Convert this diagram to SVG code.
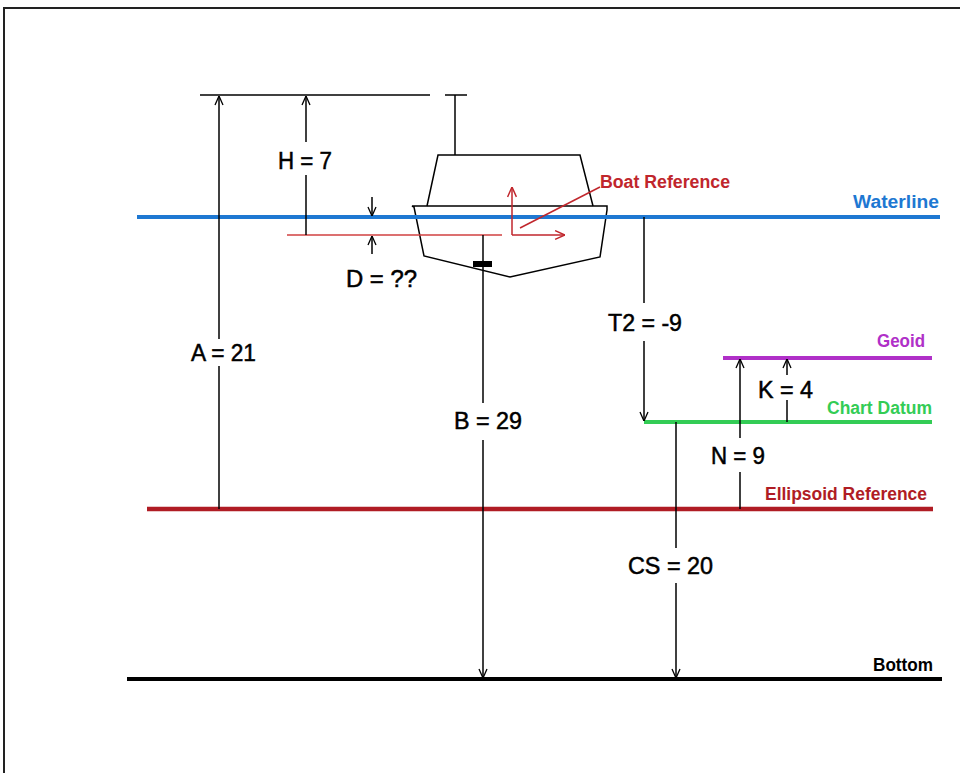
<svg xmlns="http://www.w3.org/2000/svg" width="960" height="773" viewBox="0 0 960 773">
<defs>
<marker id="ah" viewBox="0 0 10 10" refX="10" refY="5" markerWidth="10" markerHeight="10" markerUnits="userSpaceOnUse" orient="auto">
<path d="M1,1 L10,5 L1,9" fill="none" stroke="#000" stroke-width="1.3"/>
</marker>
<marker id="ahr" viewBox="0 0 10 10" refX="10" refY="5" markerWidth="11" markerHeight="11" markerUnits="userSpaceOnUse" orient="auto">
<path d="M1,1 L10,5 L1,9" fill="none" stroke="#c0262c" stroke-width="1.3"/>
</marker>
</defs>
<style>
.ln{stroke:#000;stroke-width:1.5;fill:none}
.dim{font-family:"Liberation Sans",Arial,sans-serif;font-size:23px;fill:#000;stroke:#000;stroke-width:0.5}
.lab{font-family:"Liberation Sans",Arial,sans-serif;font-size:18px;font-weight:bold}
.bg{fill:#fff}
</style>
<rect width="960" height="773" fill="#fff"/>
<path d="M4,773 L4,8 L960,8" fill="none" stroke="#222" stroke-width="2"/>

<g id="boat">
<line class="ln" x1="200" y1="95" x2="430" y2="95"/>
<line class="ln" x1="445" y1="95" x2="467" y2="95"/>
<line class="ln" x1="455" y1="95" x2="455" y2="155"/>
<path class="ln" d="M427,206 L438,155 L580,155 L593,206"/>
<path class="ln" d="M412,206 L607,206 L607,210 L600,257 L510,277 L424,256 L414,207 Z"/>
<rect x="473" y="261" width="19" height="6" fill="#000"/>
</g>

<g id="levels">
<g id="waterline"><line x1="137" y1="217" x2="940" y2="217" stroke="#1e78d2" stroke-width="4"/>
<text class="lab" x="853" y="208" fill="#1e78d2" textLength="86" lengthAdjust="spacingAndGlyphs">Waterline</text></g>
<g id="geoid"><line x1="723" y1="358" x2="932" y2="358" stroke="#b030c8" stroke-width="4"/>
<text class="lab" x="877" y="347" fill="#b030c8" textLength="48" lengthAdjust="spacingAndGlyphs">Geoid</text></g>
<g id="chartdatum"><line x1="644" y1="422" x2="932" y2="422" stroke="#33cc55" stroke-width="4"/>
<text class="lab" x="827" y="414" fill="#33cc55" textLength="105" lengthAdjust="spacingAndGlyphs">Chart Datum</text></g>
<g id="ellipsoid"><line x1="147" y1="509" x2="933" y2="509" stroke="#b01c24" stroke-width="4.5"/>
<text class="lab" x="765" y="500" fill="#b01c24" textLength="162" lengthAdjust="spacingAndGlyphs">Ellipsoid Reference</text></g>
<g id="bottom"><line x1="127" y1="679" x2="942" y2="679" stroke="#000" stroke-width="4"/>
<text class="lab" x="873" y="671" fill="#000" textLength="60" lengthAdjust="spacingAndGlyphs">Bottom</text></g>
</g>

<g id="boatref">
<line x1="287" y1="235" x2="502" y2="235" stroke="#d04040" stroke-width="1.5"/>
<line x1="512" y1="235" x2="512" y2="187" stroke="#c0262c" stroke-width="1.5" marker-end="url(#ahr)"/>
<line x1="512" y1="235" x2="565" y2="235" stroke="#c0262c" stroke-width="1.5" marker-end="url(#ahr)"/>
<line x1="520" y1="228" x2="600" y2="187" stroke="#c0262c" stroke-width="1.5"/>
<text class="lab" x="600" y="188" fill="#c0262c" textLength="130" lengthAdjust="spacingAndGlyphs">Boat Reference</text>
</g>

<g id="connectors">
<line class="ln" x1="219" y1="509" x2="219" y2="96" marker-end="url(#ah)"/>
<line class="ln" x1="306" y1="235" x2="306" y2="96" marker-end="url(#ah)"/>
<line class="ln" x1="372" y1="197" x2="372" y2="216" marker-end="url(#ah)"/>
<line class="ln" x1="372" y1="254" x2="372" y2="236" marker-end="url(#ah)"/>
<line class="ln" x1="483" y1="235" x2="483" y2="678" marker-end="url(#ah)"/>
<line class="ln" x1="644" y1="217" x2="644" y2="421" marker-end="url(#ah)"/>
<line class="ln" x1="676" y1="422" x2="676" y2="678" marker-end="url(#ah)"/>
<line class="ln" x1="740" y1="509" x2="740" y2="359" marker-end="url(#ah)"/>
<line class="ln" x1="787" y1="422" x2="787" y2="359" marker-end="url(#ah)"/>
</g>

<g id="labels">
<g id="lA"><rect class="bg" x="189" y="339" width="70" height="27"/><text class="dim" x="191" y="361" textLength="65" lengthAdjust="spacingAndGlyphs">A = 21</text></g>
<g id="lH"><rect class="bg" x="276" y="142" width="58" height="33"/><text class="dim" x="278" y="169" textLength="54" lengthAdjust="spacingAndGlyphs">H = 7</text></g>
<g id="lD"><text class="dim" x="346" y="287" textLength="71" lengthAdjust="spacingAndGlyphs">D = ??</text></g>
<g id="lB"><rect class="bg" x="452" y="403" width="72" height="37"/><text class="dim" x="454" y="429" textLength="68" lengthAdjust="spacingAndGlyphs">B = 29</text></g>
<g id="lT2"><rect class="bg" x="606" y="303" width="78" height="38"/><text class="dim" x="608" y="331" textLength="74" lengthAdjust="spacingAndGlyphs">T2 = -9</text></g>
<g id="lK"><rect class="bg" x="756" y="375" width="59" height="25"/><text class="dim" x="758" y="398" textLength="55" lengthAdjust="spacingAndGlyphs">K = 4</text></g>
<g id="lN"><rect class="bg" x="709" y="438" width="58" height="34"/><text class="dim" x="711" y="464" textLength="54" lengthAdjust="spacingAndGlyphs">N = 9</text></g>
<g id="lCS"><rect class="bg" x="626" y="548" width="89" height="35"/><text class="dim" x="628" y="574" textLength="85" lengthAdjust="spacingAndGlyphs">CS = 20</text></g>
</g>
</svg>
